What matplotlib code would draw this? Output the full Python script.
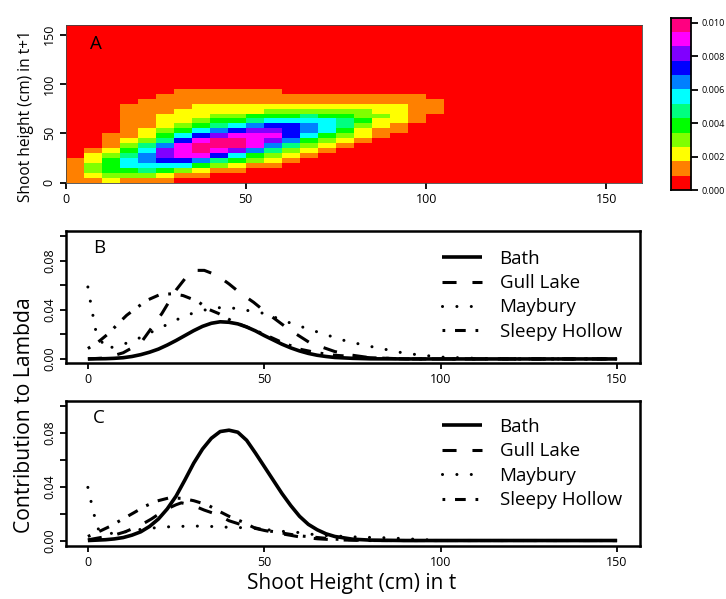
import numpy as np
import matplotlib
matplotlib.use("Agg")
import matplotlib.pyplot as plt
from matplotlib.colors import ListedColormap, BoundaryNorm

W, H = 726, 599
LABEL_FONT = ["Open Sans", "DejaVu Sans"]

# Panel A: colour class per 5 cm cell, one list per column, from the bottom row upward
col_00 = [1,1,1,1,1]
col_01 = [1,2,3,3,2,2,1]
col_02 = [2,3,4,4,4,3,2,1,1,1]
col_03 = [1,3,4,6,6,5,4,3,2,1,1,1,1,1,1,1]
col_04 = [1,3,5,6,7,7,6,5,3,2,2,1,1,1,1,1,1]
col_05 = [1,2,4,6,8,9,9,7,5,4,3,2,2,2,1,1,1,1]
col_06 = [0,1,3,6,8,10,10,10,8,6,4,3,2,2,2,1,1,1,1]
col_07 = [0,1,2,4,7,10,11,11,10,8,6,4,3,2,2,2,1,1,1]
col_08 = [0,0,1,3,5,8,10,11,11,9,7,5,4,3,2,2,1,1,1]
col_09 = [0,0,1,2,4,6,9,11,11,10,8,6,4,3,2,2,1,1,1]
col_10 = [0,0,0,1,3,4,7,10,10,10,9,7,5,4,2,2,1,1,1]
col_11 = [0,0,0,1,2,3,5,7,9,10,9,8,6,4,3,2,1,1,1]
col_12 = [0,0,0,0,1,2,3,5,7,8,8,8,6,4,3,2,1,1]
col_13 = [0,0,0,0,0,1,2,3,4,6,7,7,6,5,3,2,1,1]
col_14 = [0,0,0,0,0,0,1,2,3,4,6,6,6,4,3,2,1,1]
col_15 = [0,0,0,0,0,0,0,1,2,3,4,5,5,4,3,2,1,1]
col_16 = [0,0,0,0,0,0,0,0,1,2,2,3,4,3,3,2,1,1]
col_17 = [0,0,0,0,0,0,0,0,0,1,1,2,2,3,2,2,1,1]
col_18 = [0,0,0,0,0,0,0,0,0,0,1,1,2,2,2,2,1,1]
col_19 = [0,0,0,0,0,0,0,0,0,0,0,0,1,1,1,1,1,1]
col_20 = [0,0,0,0,0,0,0,0,0,0,0,0,0,0,1,1,1]
cols_a = [col_00,col_01,col_02,col_03,col_04,col_05,col_06,col_07,col_08,col_09,col_10,
          col_11,col_12,col_13,col_14,col_15,col_16,col_17,col_18,col_19,col_20]
class_colors = ["#ff0000","#ff8000","#ffff00","#80ff00","#00ff00","#00ff80",
                "#00ffff","#0080ff","#0000ff","#8000ff","#ff00ff","#ff0080"]
cbar_top = 0.0103

# Panel B
bx_bath = [0,5,7.5,10,12.5,15,17.5,20,22.5,25,27.5,30,32.5,35,37.5,40,42.5,45,47.5,50,52.5,55,57.5,60,62.5,65,67.5,70,75,80,90,150]
by_bath = [0,.0002,.0005,.001,.002,.0035,.0055,.008,.0113,.015,.019,.023,.0265,.029,.0302,.0298,.0285,.026,.0228,.019,.0155,.012,.009,.0065,.0045,.003,.002,.0012,.0005,.0001,0,0]
bx_gull = [0,5,10,15,18,21,25,28,31,33,36.6,40,43,47,50,57,63,70,75,80,90,150]
by_gull = [0,.0008,.005,.013,.025,.037,.056,.067,.072,.072,.068,.061,.054,.046,.039,.024,.013,.006,.003,.001,0,0]
bx_may = [0,.7,1.4,2,5,8.7,12.4,16,19.6,23.2,26.7,30.5,34.3,38.2,42.2,46,50,53.8,57.6,61.3,65,68.8,72.7,76.4,80.4,84.3,90,100,110,120,150]
by_may = [.0585,.047,.036,.025,.008,.011,.014,.019,.024,.029,.034,.038,.0405,.042,.041,.039,.037,.033,.029,.0255,.022,.0185,.015,.0125,.010,.0078,.0045,.0015,.0005,0,0]
bx_sleep = [0,2.6,6,8.5,11,14,17,20.4,24,27,31,34.5,37,41,45,50,55,60,65,70,80,90,150]
by_sleep = [.0085,.013,.021,.0285,.0355,.042,.048,.0523,.053,.0515,.047,.040,.037,.0305,.026,.020,.0135,.008,.005,.003,.001,0,0]

# Panel C
cx_bath = [0,5,7.5,10,12.5,15,17.5,20,22.5,25,27.5,30,32.5,35,37.5,40,42.5,45,47.5,50,52.5,55,57.5,60,62.5,65,67.5,70,75,80,90,150]
cy_bath = [0,.0006,.0012,.0022,.004,.0065,.0105,.016,.0235,.033,.045,.0575,.068,.076,.081,.082,.0805,.0745,.065,.055,.045,.035,.026,.018,.012,.008,.005,.003,.001,.0003,0,0]
cx_gull = [0,7.4,10.6,15,18,22,25,26.5,29.5,33,37,40,45,50,55,60,65,70,80,150]
cy_gull = [.0005,.004,.0065,.0115,.016,.023,.0266,.028,.0264,.0226,.019,.0147,.0105,.0075,.005,.0027,.0013,.0005,0,0]
cx_may = [0,.9,1.8,2.7,5.4,9.4,13.3,17.3,21.2,25,29,33,37,41,45,49.2,53,57,61,65,69,73,77,81,85,100,150]
cy_may = [.0395,.029,.019,.009,.005,.006,.0077,.009,.010,.0104,.0107,.0107,.0102,.0097,.0095,.0088,.0072,.0065,.0057,.004,.0035,.003,.0025,.0022,.002,0,0]
cx_sleep = [0,3.6,6.4,9.7,13,16.3,19.5,23.2,26.7,30,34,37,40,43.7,47,50,60,70,80,150]
cy_sleep = [.003,.0072,.0107,.0157,.0206,.0256,.0293,.0318,.0313,.0296,.0264,.022,.018,.014,.0097,.0077,.0035,.001,0,0]

names = ["Bath", "Gull Lake", "Maybury", "Sleepy Hollow"]
styles = [(0, ()), (0, (4.6, 5.2)), (0, (0.01, 4.7)), (0, (0.9, 3.2, 3.5, 3.2))]
widths = [2.6, 2.2, 2.2, 2.2]
caps = ["butt", "butt", "round", "butt"]


def box(l, t, r, b):
    return [l / W, 1 - b / H, (r - l) / W, (b - t) / H]


fig = plt.figure(figsize=(W / 100, H / 100), dpi=100)
fig.patch.set_facecolor("white")


def style_ticks(ax):
    ax.tick_params(length=4.5, width=1.3, labelsize=9, pad=3)
    ax.tick_params(axis="y", pad=2.5)
    for lab in ax.get_xticklabels() + ax.get_yticklabels():
        lab.set_fontfamily(LABEL_FONT)
    for lab in ax.get_yticklabels():
        lab.set_rotation(90)
        lab.set_va("center")


# Panel A
mat = np.zeros((32, 32))
for c, vals in enumerate(cols_a):
    mat[:len(vals), c] = vals
edges = np.arange(0, 165, 5)
cmap = ListedColormap(class_colors)
norm = BoundaryNorm(np.arange(-0.5, 12.5), 12)
axA = fig.add_axes(box(65.5, 24.8, 642.5, 183))
axA.pcolormesh(edges, edges, mat, cmap=cmap, norm=norm, shading="flat", rasterized=True)
axA.set_xlim(0, 160)
axA.set_ylim(-0.5, 160)
axA.set_xticks([0, 50, 100, 150])
axA.set_yticks([0, 50, 100, 150])
style_ticks(axA)
for s in axA.spines.values():
    s.set_linewidth(0.6)
    s.set_color("#444444")

# Colour bar
axC = fig.add_axes(box(670.5, 17.5, 690.5, 190))
bar_edges = np.linspace(0, cbar_top, 13)
axC.pcolormesh([0, 1], bar_edges, np.arange(12).reshape(-1, 1), cmap=cmap, norm=norm)
axC.set_xticks([])
axC.yaxis.tick_right()
axC.set_yticks([0, .002, .004, .006, .008, .010])
axC.set_yticklabels(["0.000", "0.002", "0.004", "0.006", "0.008", "0.010"], fontsize=6.6, family=LABEL_FONT)
axC.tick_params(axis="y", length=5, width=1.3, pad=3.2)
for s in axC.spines.values():
    s.set_linewidth(1.3)


def curves(ax, data, anchor_y):
    for (x, y), nm, ls, lw, cap in zip(data, names, styles, widths, caps):
        ax.plot(x, y, color="black", linestyle=ls, linewidth=lw, label=nm, dash_capstyle=cap)
    ax.set_xticks([0, 50, 100, 150])
    ax.set_yticks([0, .02, .04, .06, .08, .10])
    ax.set_yticklabels(["0.00", "", "0.04", "", "0.08", ""])
    style_ticks(ax)
    for s in ax.spines.values():
        s.set_linewidth(1.8)
    ax.legend(loc="upper left", bbox_to_anchor=(0.6545, anchor_y), frameon=False, handlelength=2.13,
              handletextpad=0.96, labelspacing=0.34, borderpad=0, borderaxespad=0,
              prop={"family": LABEL_FONT, "size": 13.5})


axB = fig.add_axes(box(66, 231, 640, 363))
axB.set_xlim(-6.2, 156.5)
axB.set_ylim(-0.0033, 0.104)
curves(axB, [(bx_bath, by_bath), (bx_gull, by_gull), (bx_may, by_may), (bx_sleep, by_sleep)], 0.858)

axD = fig.add_axes(box(66, 401, 640, 545.5))
axD.set_xlim(-6.2, 156.5)
axD.set_ylim(-0.0037, 0.1037)
curves(axD, [(cx_bath, cy_bath), (cx_gull, cy_gull), (cx_may, cy_may), (cx_sleep, cy_sleep)], 0.882)

for letter, px, py in [("A", 96, 44), ("B", 99, 248), ("C", 99, 418)]:
    fig.text(px / W, 1 - py / H, letter, fontsize=13.5, family=LABEL_FONT, ha="center", va="center")

fig.text(26 / W, 1 - 116 / H, "Shoot height (cm) in t+1", rotation=90, fontsize=11.2, family=LABEL_FONT,
         ha="center", va="center")
fig.text(25 / W, 1 - 415 / H, "Contribution to Lambda", rotation=90, fontsize=15.2, family=LABEL_FONT,
         ha="center", va="center")
fig.text(352 / W, 1 - 583 / H, "Shoot Height (cm) in t", fontsize=15, family=LABEL_FONT,
         ha="center", va="center")

fig.savefig("out.png", dpi=100)
